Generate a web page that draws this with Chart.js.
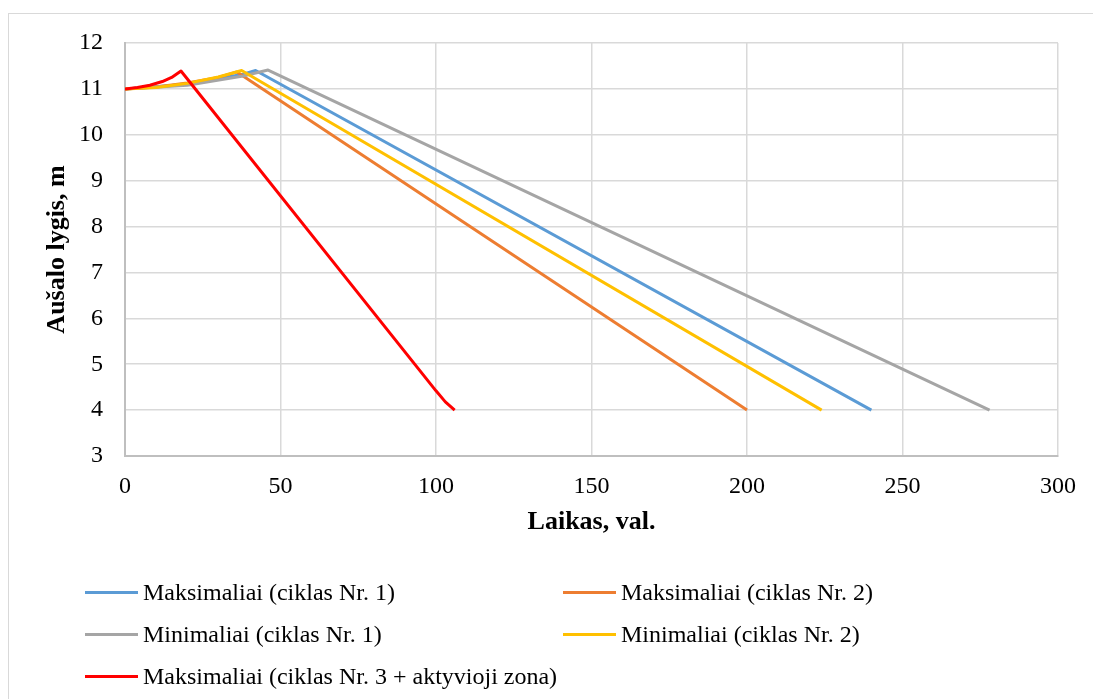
<!DOCTYPE html>
<html>
<head>
<meta charset="utf-8">
<script src="https://cdn.jsdelivr.net/npm/chart.js@4"></script>
<style>
  html, body { margin: 0; padding: 0; background: #fff; }
  #wrap { position: relative; width: 1093px; height: 699px; overflow: hidden; font-family: "Liberation Serif", "Times New Roman", serif; }
  #frame { position: absolute; left: 8px; top: 13px; width: 1200px; height: 800px; border: 1px solid #d9d9d9; box-sizing: border-box; }
  #chartBox { position: absolute; left: 0; top: 0; width: 1093px; height: 545px; }
  #legend { position: absolute; left: 0; top: 0; width: 1093px; height: 699px; }
  .item { position: absolute; display: flex; align-items: center; font-size: 24px; line-height: 28px; color: #000; white-space: nowrap; }
  .item .swatch { display: inline-block; width: 53px; height: 3px; margin-right: 5px; }
</style>
</head>
<body>
<div id="wrap">
  <div id="frame"></div>
  <div id="chartBox"><canvas id="levelChart"></canvas></div>
  <div id="legend"></div>
</div>
<script>
// Laikas (val.) ir aušalo lygis (m) kiekvienam scenarijui
const maks1X = [0, 20, 38, 42, 240];
const maks1Y = [11, 11.1, 11.32, 11.4, 4];
const maks2X = [0, 10, 20, 30, 36, 200];
const maks2Y = [11, 11.04, 11.13, 11.25, 11.37, 4];
const min1X = [0, 20, 38, 46, 278];
const min1Y = [11, 11.08, 11.28, 11.41, 4];
const min2X = [0, 10, 20, 30, 37.5, 224];
const min2Y = [11, 11.03, 11.12, 11.26, 11.4, 4];
const maks3X = [0, 4, 8, 12, 15, 18, 100, 103, 106];
const maks3Y = [11, 11.03, 11.08, 11.16, 11.25, 11.39, 4.42, 4.18, 4];

const seriesNames = [
  'Maksimaliai (ciklas Nr. 1)',
  'Maksimaliai (ciklas Nr. 2)',
  'Minimaliai (ciklas Nr. 1)',
  'Minimaliai (ciklas Nr. 2)',
  'Maksimaliai (ciklas Nr. 3 + aktyvioji zona)'
];
const seriesColors = ['#5B9BD5', '#ED7D31', '#A5A5A5', '#FFC000', '#FF0000'];
const seriesX = [maks1X, maks2X, min1X, min2X, maks3X];
const seriesY = [maks1Y, maks2Y, min1Y, min2Y, maks3Y];

const xTicks = [0, 50, 100, 150, 200, 250, 300];
const yTicks = [3, 4, 5, 6, 7, 8, 9, 10, 11, 12];

function toPoints(xs, ys) {
  return xs.map((x, i) => ({ x: x, y: ys[i] }));
}

const datasets = seriesNames.map((name, i) => ({
  label: name,
  data: toPoints(seriesX[i], seriesY[i]),
  borderColor: seriesColors[i],
  backgroundColor: seriesColors[i],
  borderWidth: 3,
  pointRadius: 0,
  tension: 0,
  borderJoinStyle: 'round',
  // vėlesnės serijos piešiamos viršuje
  order: seriesNames.length - i
}));

const serif = "'Liberation Serif', 'Times New Roman', serif";

new Chart(document.getElementById('levelChart').getContext('2d'), {
  type: 'line',
  data: { datasets: datasets },
  options: {
    responsive: true,
    maintainAspectRatio: false,
    animation: false,
    layout: { padding: { left: 40, right: 35, top: 43, bottom: 0 } },
    plugins: {
      legend: { display: false },
      tooltip: { enabled: false }
    },
    scales: {
      x: {
        type: 'linear',
        min: 0,
        max: 300,
        afterBuildTicks: (scale) => { scale.ticks = xTicks.map(v => ({ value: v })); },
        afterFit: (scale) => { scale.height = 89; },
        grid: { color: '#d9d9d9', lineWidth: 1.5, drawTicks: false },
        border: { color: '#bfbfbf', width: 2 },
        ticks: { color: '#000', font: { family: serif, size: 24 }, padding: 16, maxRotation: 0 },
        title: {
          display: true,
          text: 'Laikas, val.',
          color: '#000',
          font: { family: serif, size: 26, weight: 'bold' },
          padding: { top: 0, bottom: 7 }
        }
      },
      y: {
        min: 3,
        max: 12,
        afterBuildTicks: (scale) => { scale.ticks = yTicks.map(v => ({ value: v })); },
        afterFit: (scale) => { scale.width = 85; },
        grid: { color: '#d9d9d9', lineWidth: 1.5, drawTicks: false },
        border: { color: '#bfbfbf', width: 2 },
        ticks: { color: '#000', font: { family: serif, size: 24 }, padding: 22 },
        title: {
          display: true,
          text: 'Aušalo lygis, m',
          color: '#000',
          font: { family: serif, size: 26, weight: 'bold' },
          padding: { top: 2, bottom: 0 }
        }
      }
    }
  }
});

// Legenda dviem stulpeliais po grafiku
const legendEl = document.getElementById('legend');
const colLeft = [85, 563];
const rowTop = [592, 634, 676];
seriesNames.forEach((name, i) => {
  const item = document.createElement('div');
  item.className = 'item';
  item.style.left = colLeft[i % 2] + 'px';
  item.style.top = (rowTop[Math.floor(i / 2)] - 14) + 'px';
  const sw = document.createElement('span');
  sw.className = 'swatch';
  sw.style.background = seriesColors[i];
  const txt = document.createElement('span');
  txt.textContent = name;
  item.appendChild(sw);
  item.appendChild(txt);
  legendEl.appendChild(item);
});
</script>
</body>
</html>
